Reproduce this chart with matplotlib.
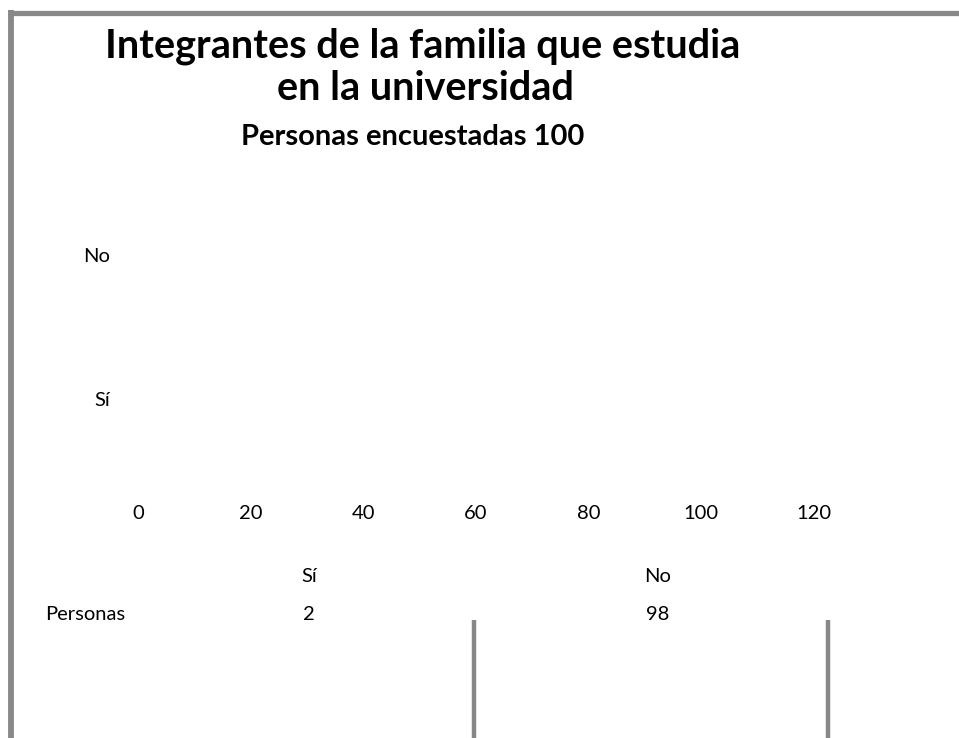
import matplotlib.pyplot as plt
from matplotlib.lines import Line2D

# Survey data
categories = ['Sí', 'No']
personas = [2, 98]
x_ticks = [0, 20, 40, 60, 80, 100, 120]
row_label = 'Personas'

plt.rcParams['font.family'] = ['Lato', 'DejaVu Sans']

fig = plt.figure(figsize=(9.59, 7.38), dpi=100)
W, H = 959, 738

# plot area in pixel coords: x 138..814, y 184..470
ax = fig.add_axes([138 / W, 1 - 470 / H, (814 - 138) / W, (470 - 184) / H])
ax.barh(categories, personas, height=0.6, facecolor='none', edgecolor='none')
ax.set_xlim(0, 120)
ax.set_ylim(-0.5, 1.5)
ax.set_xticks(x_ticks)
ax.set_xticklabels([str(t) for t in x_ticks], fontsize=14.5)
ax.tick_params(axis='x', length=0, pad=25)
ax.tick_params(axis='y', length=0, pad=20, labelsize=14.5)
for s in ax.spines.values():
    s.set_visible(False)
ax.set_facecolor('none')

# titles
fig.text(423 / W, 1 - 46 / H, 'Integrantes de la familia que estudia',
         ha='center', va='center', fontsize=28.5, fontweight='bold')
fig.text(425 / W, 1 - 89 / H, 'en la universidad',
         ha='center', va='center', fontsize=28.5, fontweight='bold')
fig.text(413 / W, 1 - 137 / H, 'Personas encuestadas 100',
         ha='center', va='center', fontsize=21, fontweight='bold')

# data table below the chart
col_x = [309, 658]
for cx, cat, val in zip(col_x, categories, personas):
    fig.text(cx / W, 1 - 576 / H, cat, ha='center', va='center', fontsize=14.5)
    fig.text(cx / W, 1 - 614 / H, str(val), ha='center', va='center', fontsize=14.5)
fig.text(85 / W, 1 - 614 / H, row_label, ha='center', va='center', fontsize=14.5)

# gray frame pieces
gray = '#888888'
fig.add_artist(Line2D([8 / W, 1], [1 - 12.5 / H, 1 - 12.5 / H], color=gray, lw=3.8,
                      transform=fig.transFigure, solid_capstyle='butt'))
fig.add_artist(Line2D([11 / W, 11 / W], [1 - 10 / H, 0], color=gray, lw=4.2,
                      transform=fig.transFigure, solid_capstyle='butt'))
for lx in [474, 828]:
    fig.add_artist(Line2D([lx / W, lx / W], [1 - 620 / H, 0], color=gray, lw=3.2,
                          transform=fig.transFigure, solid_capstyle='butt'))

fig.savefig('out.png', dpi=100)
